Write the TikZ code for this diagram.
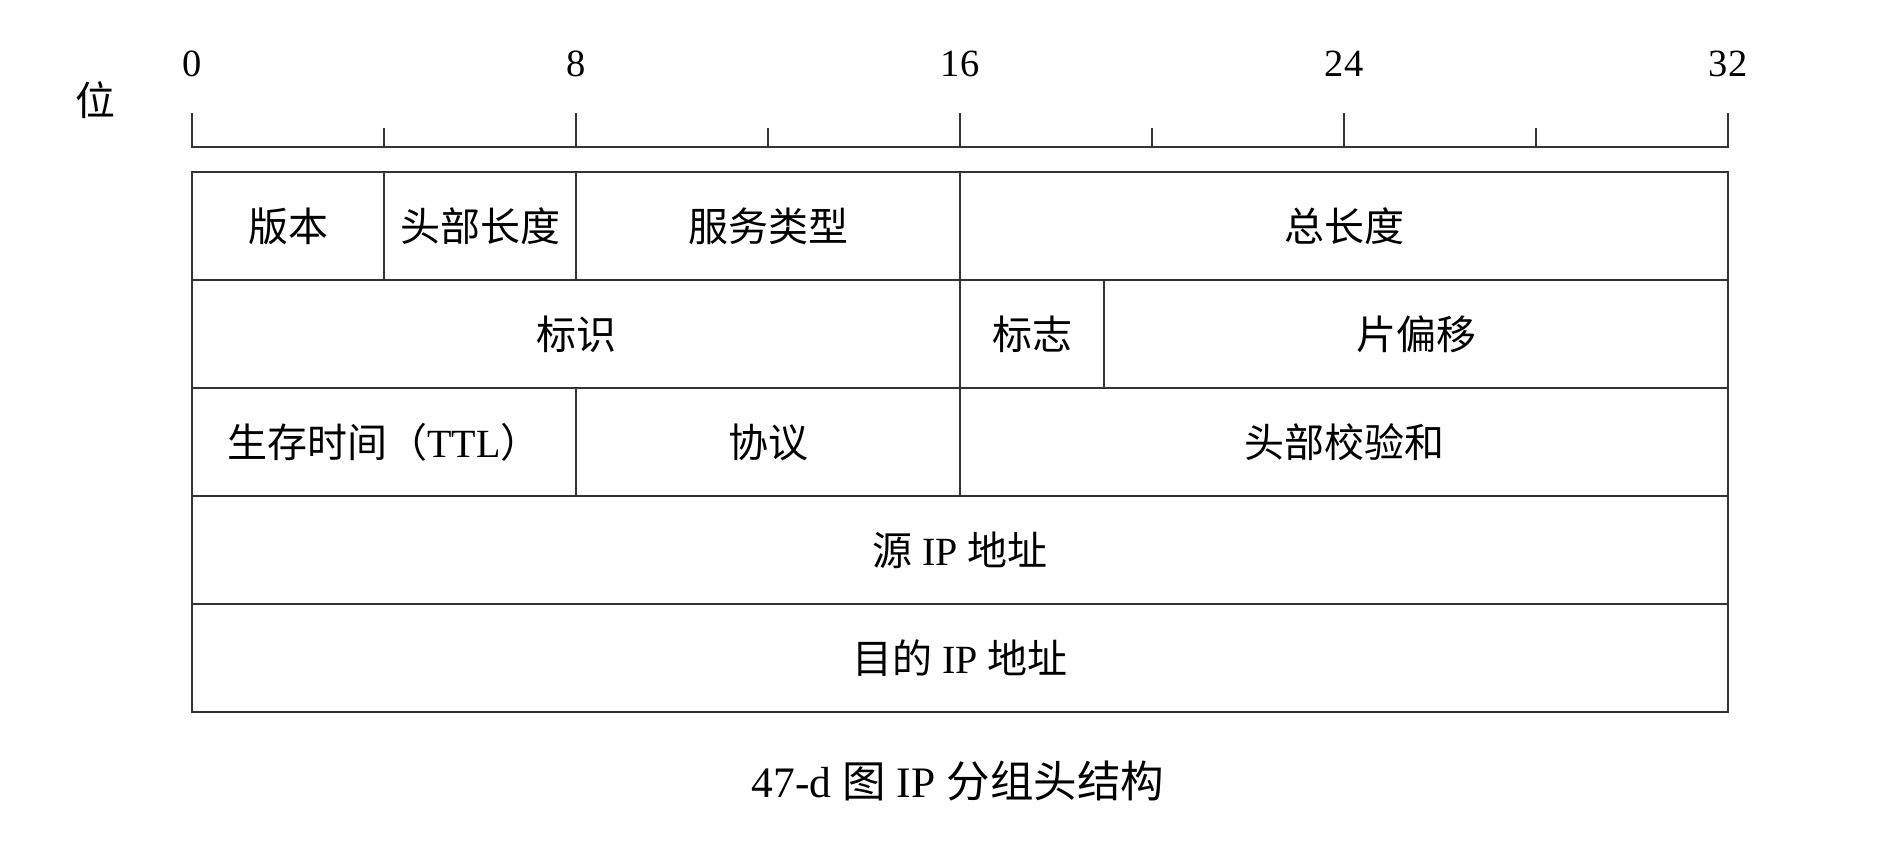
\documentclass[tikz,border=0pt]{standalone}
\usepackage{fontspec}
\setmainfont{Liberation Serif}
\newfontfamily\cjk{Noto Sans CJK SC}
\newcommand{\zhs}[1]{{\cjk #1}}
\begin{document}
\begin{tikzpicture}[x=1pt,y=-1pt,
  rule/.style={draw=black!80,line width=2.5pt},
  cell/.style={rule,rectangle,inner sep=0pt,outer sep=0pt,minimum height=108pt,
    font=\fontsize{40}{48}\selectfont},
  numlab/.style={inner sep=0pt,font=\fontsize{38.5}{44}\selectfont},
  caplab/.style={inner sep=0pt,font=\fontsize{43.5}{50}\selectfont}]
\useasboundingbox (0,0) rectangle (1904,864);
% ruler
\draw[rule,line join=miter] (192,113) -- (192,147) -- (1728,147) -- (1728,113);
\foreach \b in {8,16,24} \draw[rule] ({192+48*\b},147) -- ({192+48*\b},113);
\foreach \b in {4,12,20,28} \draw[rule] ({192+48*\b},147) -- ({192+48*\b},128);
\foreach \b in {0,8,16,24,32} \node[numlab] (n\b) at ({192+48*\b},64) {\b};
\node[inner sep=0pt,font=\fontsize{40}{48}\selectfont] (wei) at (95,100) {\zhs{位}};
% row 1
\node[cell,minimum width=192pt] (ver) at (288,226) {\zhs{版本}};
\node[cell,minimum width=192pt] (ihl) at (480,226) {\zhs{头部长度}};
\node[cell,minimum width=384pt] (tos) at (768,226) {\zhs{服务类型}};
\node[cell,minimum width=768pt] (len) at (1344,226) {\zhs{总长度}};
% row 2
\node[cell,minimum width=768pt] (ident) at (576,334) {\zhs{标识}};
\node[cell,minimum width=144pt] (flags) at (1032,334) {\zhs{标志}};
\node[cell,minimum width=624pt] (frag) at (1416,334) {\zhs{片偏移}};
% row 3
\node[cell,minimum width=384pt] (ttl) at (384,442) {\zhs{生存时间（}TTL\zhs{）}};
\node[cell,minimum width=384pt] (proto) at (768,442) {\zhs{协议}};
\node[cell,minimum width=768pt] (csum) at (1344,442) {\zhs{头部校验和}};
% rows 4-5
\node[cell,minimum width=1536pt] (src) at (960,550) {\zhs{源} IP \zhs{地址}};
\node[cell,minimum width=1536pt] (dst) at (960,658) {\zhs{目的} IP \zhs{地址}};
% caption
\node[caplab] (cap) at (958,781) {47-d \zhs{图} IP \zhs{分组头结构}};
\end{tikzpicture}
\end{document}
